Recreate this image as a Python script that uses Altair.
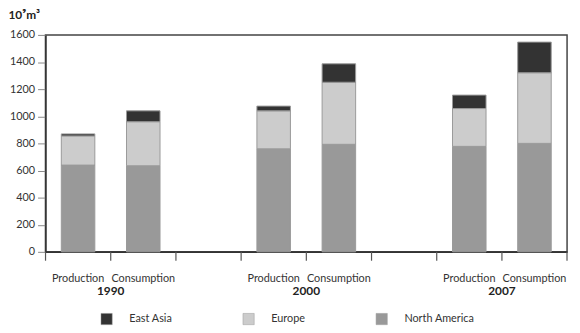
import altair as alt
import pandas as pd

years = ["1990", "2000", "2007"]
kinds = ["Production", "Consumption"]
regions = ["East Asia", "Europe", "North America"]
colors = ["#333333", "#cccccc", "#999999"]

# values in 10^9 m^3, per (year, kind): North America, Europe, East Asia
north_america = [640, 635, 760, 793, 778, 800]
europe = [215, 325, 280, 458, 279, 521]
east_asia = [15, 80, 35, 136, 99, 226]

domain = ["1990 Production", "1990 Consumption", "gap1",
          "2000 Production", "2000 Consumption", "gap2",
          "2007 Production", "2007 Consumption"]

rows = []
i = 0
for y in years:
    for k in kinds:
        cat = f"{y} {k}"
        rows.append({"cat": cat, "region": "North America", "val": north_america[i], "ord": 0})
        rows.append({"cat": cat, "region": "Europe", "val": europe[i], "ord": 1})
        rows.append({"cat": cat, "region": "East Asia", "val": east_asia[i], "ord": 2})
        i += 1
df = pd.DataFrame(rows)
ydf = pd.DataFrame({"year": years, "cat": [f"{y} Consumption" for y in years]})
tickdf = pd.DataFrame({"cat": domain})
enddf = pd.DataFrame({"cat": [domain[-1]]})

FONT = "Lato"

xscale = alt.Scale(domain=domain, paddingInner=0, paddingOuter=0)

bars = alt.Chart(df).mark_bar(size=34, stroke="#999999", strokeWidth=1).encode(
    x=alt.X("cat:N", scale=xscale, title=None,
            axis=alt.Axis(ticks=False, labelAngle=0,
                          domainColor="#333333", domainWidth=1.5, labelPadding=21,
                          labelFontSize=11, labelColor="#333333", labelFont=FONT,
                          labelExpr="indexof(datum.value,'Production')>=0 ? 'Production' : (indexof(datum.value,'Consumption')>=0 ? 'Consumption' : '')")),
    y=alt.Y("val:Q", stack="zero",
            scale=alt.Scale(domain=[0, 1600]),
            axis=alt.Axis(values=[0, 200, 400, 600, 800, 1000, 1200, 1400, 1600],
                          format="d",
                          tickSize=8, tickColor="#888888", labelPadding=3,
                          domainColor="#333333", domainWidth=1.5, grid=False,
                          labelFontSize=11, labelColor="#333333", labelFont=FONT,
                          title="10⁹m³", titleAngle=0, titleAlign="left",
                          titleBaseline="middle", titleX=-38, titleY=-21,
                          titleFontSize=12, titleFontWeight="bold", titleFont=FONT,
                          titleColor="#222222")),
    color=alt.Color("region:N", scale=alt.Scale(domain=regions, range=colors),
                    legend=alt.Legend(title=None, orient="none", direction="horizontal",
                                      legendX=56, legendY=282, symbolType="square",
                                      symbolSize=130, labelOffset=17, columnPadding=70,
                                      labelFontSize=11, labelColor="#333333", labelFont=FONT,
                                      symbolStrokeColor="#999999", symbolStrokeWidth=0.5)),
    order=alt.Order("ord:Q"),
)

ticks = alt.Chart(tickdf).mark_tick(color="#555555", orient="vertical", size=9,
                                    thickness=1.2, xOffset=-33, opacity=1).encode(
    x=alt.X("cat:N", scale=xscale),
    y=alt.value(224.5),
)

endtick = alt.Chart(enddf).mark_tick(color="#555555", orient="vertical", size=9,
                                     thickness=1.2, xOffset=33, opacity=1).encode(
    x=alt.X("cat:N", scale=xscale),
    y=alt.value(224.5),
)

yearlabels = alt.Chart(ydf).mark_text(fontWeight="bold", fontSize=12, font=FONT,
                                      color="#222222", baseline="middle", dx=-33).encode(
    x=alt.X("cat:N", scale=xscale),
    y=alt.value(260),
    text="year:N",
)

chart = alt.layer(bars, ticks, endtick, yearlabels).properties(
    width=529, height=220,
    autosize=alt.AutoSizeParams(type="none"),
    padding={"left": 38, "top": 25, "right": 5, "bottom": 80},
).configure_view(stroke="#444444", strokeWidth=1.5)

chart.save("out.html", embed_options={"renderer": "svg", "actions": False})
